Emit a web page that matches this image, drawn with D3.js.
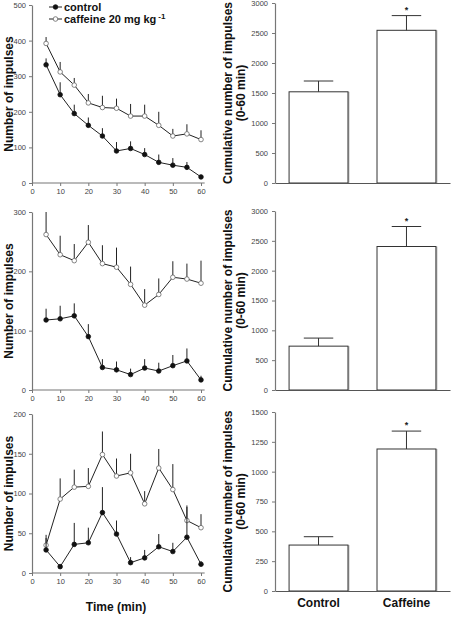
<!DOCTYPE html>
<html><head><meta charset="utf-8">
<script src="https://cdn.jsdelivr.net/npm/d3@7"></script>
<style>
body{margin:0;background:#fff;}
svg{display:block;font-family:"Liberation Sans",Arial,sans-serif;}
.tick text{fill:#444;font-size:7.5px;}
.ttl{font-weight:bold;font-size:12px;fill:#111;}
</style></head>
<body>
<svg id="c" width="451" height="621"></svg>
<script>
const times = [5,10,15,20,25,30,35,40,45,50,55,60];
// Panel A
const ctrlA = [332,248,195,162,132,90,97,80,58,50,44,17];
const ctrlAerr = [18,35,25,22,22,25,20,18,22,20,15,6];
const cafA = [392,312,275,225,212,210,188,188,162,132,138,122];
const cafAerr = [18,28,20,25,33,27,34,32,38,20,27,26];
// Panel B
const ctrlB = [118,120,125,90,38,34,26,37,32,41,49,17];
const ctrlBerr = [19,22,21,21,14,14,10,15,14,18,21,7];
const cafB = [262,228,218,249,213,207,178,143,161,190,187,180];
const cafBerr = [38,32,28,29,31,33,30,27,27,27,26,38];
// Panel C
const ctrlC = [29,8,36,38,76,49,13,19,33,27,45,11];
const ctrlCerr = [15,2,27,19,32,17,7,10,16,11,38,4];
const cafC = [35,93,108,109,149,122,126,87,132,105,66,57];
const cafCerr = [13,26,22,23,29,22,24,16,24,32,19,17];
// Cumulative bars
const groups = ["Control","Caffeine"];
const cumA = [1520,2545], cumAerr = [180,245];
const cumB = [735,2405], cumBerr = [135,335];
const cumC = [385,1190], cumCerr = [70,150];
const xTicks = [0,10,20,30,40,50,60];
const yTicksA = [0,100,200,300,400,500];
const yTicksB = [0,100,200,300];
const yTicksC = [0,50,100,150,200];
const barTicksAB = [0,500,1000,1500,2000,2500,3000];
const barTicksC = [0,250,500,750,1000,1250,1500];

const svg = d3.select("#c");
const axisCol = "#777";
const fmt = d3.format("d");

function styleAxis(g){
  g.selectAll(".domain").attr("stroke",axisCol).attr("stroke-width",1.2);
  g.selectAll(".tick line").attr("stroke",axisCol);
  g.selectAll(".tick text").attr("font-family","Liberation Sans, Arial, sans-serif");
}

function linePanel(cfg){
  const x = d3.scaleLinear().domain([0,60]).range([32,201]);
  const y = d3.scaleLinear().domain([0,cfg.ymax]).range([cfg.y0,cfg.ytop]);
  const g = svg.append("g");
  const xa = g.append("g").attr("transform",`translate(0,${cfg.y0})`)
    .call(d3.axisBottom(x).tickValues(xTicks).tickFormat(fmt).tickSize(3).tickSizeOuter(0).tickPadding(3));
  xa.select(".domain").attr("d",`M${x(0)},0H${x(61.3)}`);
  styleAxis(xa);
  const ya = g.append("g").attr("transform","translate(32,0)")
    .call(d3.axisLeft(y).tickValues(cfg.yt).tickFormat(fmt).tickSize(3).tickSizeOuter(0).tickPadding(3));
  styleAxis(ya);
  const line = d3.line().x((d,i)=>x(times[i])).y(d=>y(d));
  [[cfg.caf,cfg.cafErr,"#fff"],[cfg.ctrl,cfg.ctrlErr,"#111"]].forEach(([vals,err,fill])=>{
    g.append("g").selectAll("line").data(vals).join("line")
      .attr("x1",(d,i)=>x(times[i])).attr("x2",(d,i)=>x(times[i]))
      .attr("y1",d=>y(d)).attr("y2",(d,i)=>y(d+err[i]))
      .attr("stroke","#222").attr("stroke-width",1);
    g.append("path").datum(vals).attr("d",line).attr("fill","none").attr("stroke","#222").attr("stroke-width",1);
    g.append("g").selectAll("circle").data(vals).join("circle")
      .attr("cx",(d,i)=>x(times[i])).attr("cy",d=>y(d)).attr("r",2.3)
      .attr("fill",fill).attr("stroke",fill==="#fff"?"#666":"#111").attr("stroke-width",0.8);
  });
  g.append("text").attr("class","ttl")
    .attr("transform",`translate(13,${(cfg.y0+cfg.ytop)/2}) rotate(-90)`)
    .attr("text-anchor","middle").text("Number of impulses");
  return {x,y};
}

function barPanel(cfg){
  const x = d3.scaleBand().domain(groups).range([275,450]).paddingInner(0.33).paddingOuter(0.16);
  const y = d3.scaleLinear().domain([0,cfg.ymax]).range([cfg.y0,cfg.ytop]);
  const g = svg.append("g");
  g.selectAll("rect.shadow").data(cfg.vals).join("rect")
    .attr("x",(d,i)=>x(groups[i])+x.bandwidth()-0.5).attr("y",d=>y(d))
    .attr("width",2).attr("height",d=>cfg.y0-y(d)).attr("fill","#bbb");
  g.selectAll("rect.bar").data(cfg.vals).join("rect")
    .attr("x",(d,i)=>x(groups[i])).attr("y",d=>y(d))
    .attr("width",x.bandwidth()).attr("height",d=>cfg.y0-y(d))
    .attr("fill","#fff").attr("stroke","#333").attr("stroke-width",1);
  cfg.vals.forEach((v,i)=>{
    const cx = x(groups[i])+x.bandwidth()/2;
    const top = y(v+cfg.err[i]);
    g.append("line").attr("x1",cx).attr("x2",cx).attr("y1",y(v)).attr("y2",top).attr("stroke","#333");
    g.append("line").attr("x1",cx-x.bandwidth()/4).attr("x2",cx+x.bandwidth()/4).attr("y1",top).attr("y2",top).attr("stroke","#333");
  });
  const ci = 1;
  g.append("text").attr("x",x(groups[ci])+x.bandwidth()/2).attr("y",y(cfg.vals[ci]+cfg.err[ci])-3)
    .attr("text-anchor","middle").attr("font-size","9px").attr("font-weight","bold").attr("fill","#222").text("*");
  const xa = g.append("g").attr("transform",`translate(0,${cfg.y0})`)
    .call(d3.axisBottom(x).tickSize(0).tickSizeOuter(0).tickFormat(""));
  styleAxis(xa);
  xa.select(".domain").attr("stroke","#555");
  const ya = g.append("g").attr("transform","translate(275,0)")
    .call(d3.axisLeft(y).tickValues(cfg.yt).tickFormat(fmt).tickSize(3).tickSizeOuter(0).tickPadding(4));
  styleAxis(ya);
  const mid = (cfg.y0+cfg.ytop)/2;
  const t = g.append("text").attr("class","ttl").attr("text-anchor","middle")
    .attr("font-size","11.5px")
    .attr("transform",`translate(232,${mid}) rotate(-90)`);
  t.append("tspan").attr("x",0).attr("dy",0).text("Cumulative number of impulses");
  t.append("tspan").attr("x",0).attr("dy",13).text("(0-60 min)");
  return {x,y};
}

linePanel({ymax:500,y0:183,ytop:5,yt:yTicksA,ctrl:ctrlA,ctrlErr:ctrlAerr,caf:cafA,cafErr:cafAerr});
linePanel({ymax:300,y0:390,ytop:212,yt:yTicksB,ctrl:ctrlB,ctrlErr:ctrlBerr,caf:cafB,cafErr:cafBerr});
linePanel({ymax:200,y0:573,ytop:414,yt:yTicksC,ctrl:ctrlC,ctrlErr:ctrlCerr,caf:cafC,cafErr:cafCerr});

barPanel({ymax:3000,y0:183,ytop:3,yt:barTicksAB,vals:cumA,err:cumAerr});
barPanel({ymax:3000,y0:390,ytop:211,yt:barTicksAB,vals:cumB,err:cumBerr});
const bc = barPanel({ymax:1500,y0:591,ytop:412,yt:barTicksC,vals:cumC,err:cumCerr});

svg.append("g").selectAll("text").data(groups).join("text")
  .attr("class","ttl").attr("font-size","11.5px")
  .attr("x",d=>bc.x(d)+bc.x.bandwidth()/2).attr("y",607)
  .attr("text-anchor","middle").text(d=>d);

svg.append("text").attr("class","ttl").attr("x",116).attr("y",611).attr("text-anchor","middle").text("Time (min)");

const lg = svg.append("g");
const legendItems = [{label:"control",fill:"#111",y:7},{label:"caffeine 20 mg kg",fill:"#fff",y:19,sup:"-1"}];
legendItems.forEach(it=>{
  lg.append("line").attr("x1",49).attr("x2",62).attr("y1",it.y).attr("y2",it.y).attr("stroke","#222");
  lg.append("circle").attr("cx",55.5).attr("cy",it.y).attr("r",2.3).attr("fill",it.fill)
    .attr("stroke",it.fill==="#fff"?"#666":"#111").attr("stroke-width",0.8);
  const t = lg.append("text").attr("x",64).attr("y",it.y+4).attr("font-size","11px").attr("font-weight","bold").attr("fill","#111").text(it.label);
  if(it.sup) t.append("tspan").attr("dy",-4).attr("dx",2).attr("font-size","8px").text(it.sup);
});
</script>
</body></html>
